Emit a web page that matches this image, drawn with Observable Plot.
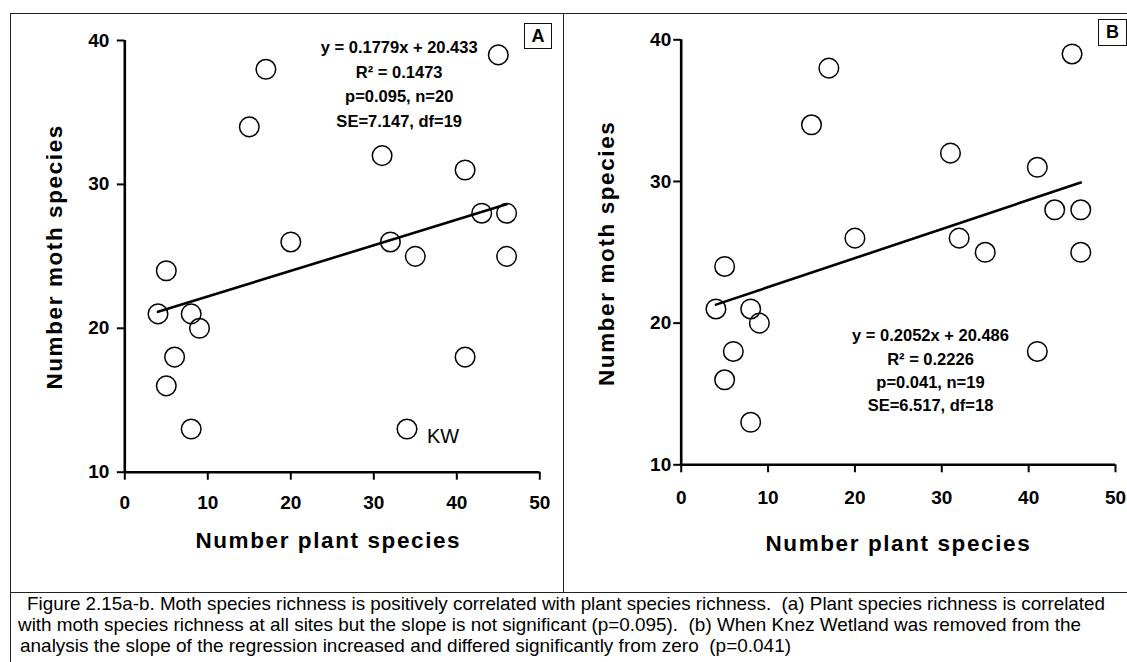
<!DOCTYPE html>
<html><head><meta charset="utf-8">
<script src="https://cdn.jsdelivr.net/npm/d3@7"></script>
<script src="https://cdn.jsdelivr.net/npm/@observablehq/plot@0.6"></script>
<style>
html,body{margin:0;padding:0;background:#fff;}
#root{position:relative;width:1127px;height:662px;overflow:hidden;font-family:"Liberation Sans",Arial,sans-serif;background:#fff;}
.hl{position:absolute;height:0;border-top:1px solid #222;}
.vl{position:absolute;width:0;border-left:1px solid #222;}
.lab{position:absolute;border:1px solid #111;display:flex;align-items:center;justify-content:center;font-weight:bold;font-size:18px;box-sizing:border-box;}
</style></head><body><div id="root"></div>
<script>
// ---- data ----
const plantSpecies = [4, 5, 8, 17, 15, 20, 31, 32, 35, 41, 43, 46, 46, 45, 9, 6, 5, 8, 41, 34];
const mothSpecies  = [21, 24, 21, 38, 34, 26, 32, 26, 25, 31, 28, 28, 25, 39, 20, 18, 16, 13, 18, 13];
const siteLabels   = ["", "", "", "", "", "", "", "", "", "", "", "", "", "", "", "", "", "", "", "KW"];
const xTicks = [0, 10, 20, 30, 40, 50];
const yTicks = [10, 20, 30, 40];
const fitX  = [4, 46];
const fitYA = [21.145, 28.617];   // y = 0.1779x + 20.433
const fitYB = [21.307, 29.925];   // y = 0.2052x + 20.486
const statsA = ["y = 0.1779x + 20.433", "R\u00B2 = 0.1473", "p=0.095, n=20", "SE=7.147, df=19"];
const statsB = ["y = 0.2052x + 20.486", "R\u00B2 = 0.2226", "p=0.041, n=19", "SE=6.517, df=18"];
const panelLabels = ["A", "B"];
const xTitle = "Number plant species";
const yTitle = "Number moth species";
const captionLines = [
  "Figure 2.15a-b. Moth species richness is positively correlated with plant species richness.  (a) Plant species richness is correlated",
  "with moth species richness at all sites but the slope is not significant (p=0.095).  (b) When Knez Wetland was removed from the",
  "analysis the slope of the regression increased and differed significantly from zero  (p=0.041)"
];

const sitesAll = plantSpecies.map((p, i) => ({plants: p, moths: mothSpecies[i], label: siteLabels[i]}));
const sitesNoKW = sitesAll.filter(d => d.label !== "KW");

const root = document.getElementById("root");

function panel(cfg) {
  const fit = fitX.map((x, i) => ({x, y: cfg.fitY[i]}));
  const marks = [
    Plot.axisX(xTicks, {tickSize: 8, tickPadding: cfg.xPad, fontSize: 19, fontWeight: "bold", strokeWidth: 2, label: null}),
    Plot.axisY(yTicks, {tickSize: 7.5, tickPadding: cfg.yPad, fontSize: 19, fontWeight: "bold", strokeWidth: 2, label: null}),
    Plot.ruleX([0], {y1: 10, y2: 40, strokeWidth: 2.6}),
    Plot.ruleY([10], {x1: 0, x2: 50, strokeWidth: 2.6}),
    Plot.line(fit, {x: "x", y: "y", strokeWidth: 2.6, stroke: "#000"}),
    Plot.dot(cfg.data, {x: "plants", y: "moths", r: 9.8, stroke: "#000", strokeWidth: 1.5, fill: "none"}),
    Plot.text([cfg.stats.join("\n")], {x: cfg.statsX, y: cfg.statsY, lineAnchor: "middle", textAnchor: "middle",
      fontSize: 16.5, fontWeight: "bold", lineHeight: cfg.statsLH, fill: "#000"}),
    Plot.text([xTitle], {frameAnchor: "bottom", dy: cfg.xTitleDy, dx: cfg.xTitleDx, lineAnchor: "middle", fontSize: 22.5, fontWeight: "bold"}),
    Plot.text([yTitle], {frameAnchor: "left", rotate: -90, dx: cfg.yTitleDx, dy: cfg.yTitleDy, lineAnchor: "middle", textAnchor: "middle", fontSize: 22.5, fontWeight: "bold"})
  ];
  if (cfg.showKW) {
    marks.push(Plot.text(cfg.data.filter(d => d.label), {x: "plants", y: "moths", text: "label", dx: 20, dy: 7.5,
      textAnchor: "start", lineAnchor: "middle", fontSize: 20, fontWeight: "normal"}));
  }
  const svg = Plot.plot({
    width: cfg.width, height: 579,
    marginLeft: cfg.ml, marginRight: cfg.mr, marginTop: cfg.mt, marginBottom: cfg.mb,
    x: {domain: [0, 50]},
    y: {domain: [10, 40]},
    style: {fontFamily: "'Liberation Sans', Arial, sans-serif", fontWeight: "bold", color: "#000", background: "transparent", overflow: "visible"},
    marks
  });
  const s = d3.select(svg);
  s.selectAll('g[aria-label$="tick label"]').attr("font-size", 19).attr("font-weight", "bold");
  s.selectAll("text").filter(function() { return this.textContent.startsWith("Number"); })
    .attr("letter-spacing", "1.6px");
  svg.style.position = "absolute";
  svg.style.left = cfg.left + "px";
  svg.style.top = "13px";
  return svg;
}

root.appendChild(panel({
  data: sitesAll, fitY: fitYA, stats: statsA, showKW: true,
  left: 10, width: 553, ml: 114.3, mr: 23.7, mt: 27, mb: 120.3,
  xPad: 15, yPad: 8,
  statsX: 33.06, statsY: 37.1, statsLH: 1.48,
  xTitleDy: 68.3, xTitleDx: -4, yTitleDx: -70.3, yTitleDy: 0.5
}));
root.appendChild(panel({
  data: sitesNoKW, fitY: fitYB, stats: statsB, showKW: false,
  left: 563, width: 564, ml: 117.7, mr: 12, mt: 26.3, mb: 127.7,
  xPad: 17.5, yPad: 2.5,
  statsX: 28.7, statsY: 16.78, statsLH: 1.41,
  xTitleDy: 78.7, xTitleDx: 0, yTitleDx: -74.7, yTitleDy: 1
}));

// frame lines
function addEl(cls, css) { const e = document.createElement("div"); e.className = cls; Object.assign(e.style, css); root.appendChild(e); return e; }
addEl("hl", {left: "10px", top: "13px", width: "1117px"});
addEl("vl", {left: "10px", top: "13px", height: "649px"});
addEl("vl", {left: "563px", top: "13px", height: "579px"});
addEl("hl", {left: "10px", top: "592px", width: "1117px"});
const la = addEl("lab", {left: "524px", top: "23px", width: "28px", height: "26px"}); la.textContent = panelLabels[0];
const lb = addEl("lab", {left: "1098px", top: "19px", width: "29px", height: "27px"}); lb.textContent = panelLabels[1];

// caption
const cap = d3.select(root).append("svg").attr("width", 1127).attr("height", 70)
  .style("position", "absolute").style("left", "0px").style("top", "592px");
const capX = [27, 18, 20];
const capW = [1078, 1063, 771];
const capBase = [18, 39, 60];
cap.selectAll("text").data(captionLines).join("text")
  .attr("x", (d, i) => capX[i]).attr("y", (d, i) => capBase[i])
  .attr("textLength", (d, i) => capW[i]).attr("lengthAdjust", "spacingAndGlyphs")
  .style("white-space", "pre")
  .attr("font-family", "'Liberation Sans', Arial, sans-serif").attr("font-size", 19).attr("fill", "#000")
  .text(d => d);
</script></body></html>
